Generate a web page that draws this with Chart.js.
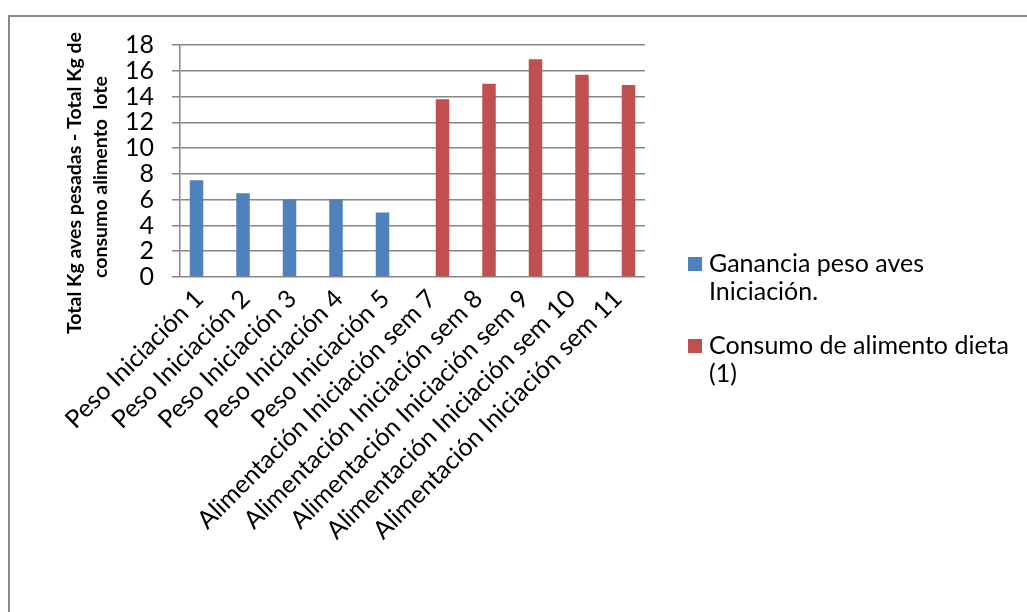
<!DOCTYPE html>
<html>
<head>
<meta charset="utf-8">
<script src="https://cdn.jsdelivr.net/npm/chart.js@4/dist/chart.umd.min.js"></script>
<style>
  html, body { margin: 0; padding: 0; background: #fff; overflow: hidden; }
  #wrap { position: relative; width: 1027px; height: 612px; overflow: hidden; }
  #frame { position: absolute; left: 8px; top: 15px; width: 1100px; height: 700px;
           border: 2px solid #898989; box-sizing: border-box; }
  #c { position: absolute; left: 0; top: 0; }
</style>
</head>
<body>
<div id="wrap">
  <div id="frame"></div>
  <canvas id="c" width="1027" height="612"></canvas>
</div>
<script>
// Categories along the horizontal axis
const categories = [
  'Peso Iniciación 1',
  'Peso Iniciación 2',
  'Peso Iniciación 3',
  'Peso Iniciación 4',
  'Peso Iniciación 5',
  'Alimentación Iniciación sem 7',
  'Alimentación Iniciación sem 8',
  'Alimentación Iniciación sem 9',
  'Alimentación Iniciación sem 10',
  'Alimentación Iniciación sem 11'
];

// Series values (kg); empty slots belong to the other series
const gananciaPeso    = [7.5, 6.5, 6, 6, 5, null, null, null, null, null];
const consumoAlimento = [null, null, null, null, null, 13.8, 15, 16.9, 15.7, 14.9];

// Legend entries, one array of lines per series
const legendGanancia = ['Ganancia peso aves', 'Iniciación.'];
const legendConsumo  = ['Consumo de alimento dieta', '(1)'];

// Vertical axis title (two lines) and scale limits
const yTitleLines = ['Total Kg aves pesadas - Total Kg de', 'consumo alimento  lote'];
const yMin = 0, yMax = 18, yStep = 2;

const BLUE = '#4F81BD';
const RED = '#C0504D';
const GRID = '#868686';
const FONT = 'Lato, "Open Sans", sans-serif';

// Draws the rotated two-line axis title and the wrapped legend on the right
const decorations = {
  id: 'decorations',
  afterDraw(chart) {
    const ctx = chart.ctx;
    const area = chart.chartArea;

    // axis title
    ctx.save();
    ctx.fillStyle = '#000';
    ctx.font = 'bold 19.5px ' + FONT;
    ctx.textAlign = 'center';
    ctx.textBaseline = 'alphabetic';
    const cy = (area.top + area.bottom) / 2;
    const titleX = [81, 107];
    const titleY = [cy + 22, cy + 16];
    yTitleLines.forEach((line, i) => {
      ctx.save();
      ctx.translate(titleX[i], titleY[i]);
      ctx.rotate(-Math.PI / 2);
      ctx.fillText(line, 0, 0);
      ctx.restore();
    });
    ctx.restore();

    // legend
    ctx.save();
    ctx.font = '25px ' + FONT;
    ctx.textAlign = 'left';
    ctx.textBaseline = 'alphabetic';
    const entries = [
      { color: chart.data.datasets[0].backgroundColor, lines: legendGanancia, base: 272 },
      { color: chart.data.datasets[1].backgroundColor, lines: legendConsumo, base: 354 }
    ];
    const boxX = 688, textX = 709, box = 14, lineGap = 28;
    entries.forEach(e => {
      ctx.fillStyle = e.color;
      ctx.fillRect(boxX, e.base - box - 1, box, box);
      ctx.fillStyle = '#000';
      e.lines.forEach((t, j) => ctx.fillText(t, textX, e.base + j * lineGap));
    });
    ctx.restore();
  }
};

new Chart(document.getElementById('c'), {
  type: 'bar',
  data: {
    labels: categories,
    datasets: [
      { label: legendGanancia.join(' '), data: gananciaPeso, backgroundColor: BLUE,
        categoryPercentage: 0.58, barPercentage: 1.0 },
      { label: legendConsumo.join(' '), data: consumoAlimento, backgroundColor: RED,
        categoryPercentage: 0.58, barPercentage: 1.0 }
    ]
  },
  options: {
    responsive: false,
    animation: false,
    devicePixelRatio: 1,
    layout: { padding: { left: 0, top: 45, right: 382, bottom: 0 } },
    plugins: {
      legend: { display: false },
      tooltip: { enabled: false },
      title: { display: false }
    },
    scales: {
      x: {
        grid: { display: false },
        border: { display: false },
        ticks: {
          autoSkip: false,
          maxRotation: 45,
          minRotation: 45,
          padding: -1,
          labelOffset: -4,
          color: '#000',
          font: { family: FONT, size: 25 }
        },
        afterFit(scale) { scale.height = 612 - 277; }
      },
      y: {
        min: yMin,
        max: yMax,
        ticks: {
          stepSize: yStep,
          autoSkip: false,
          padding: 18,
          color: '#000',
          font: { family: FONT, size: 25 }
        },
        grid: { color: GRID, lineWidth: 1.5, tickLength: 8, drawTicks: true },
        border: { display: true, color: GRID, width: 1.5 },
        afterFit(scale) { scale.width = 180; }
      }
    }
  },
  plugins: [decorations]
});
</script>
</body>
</html>
